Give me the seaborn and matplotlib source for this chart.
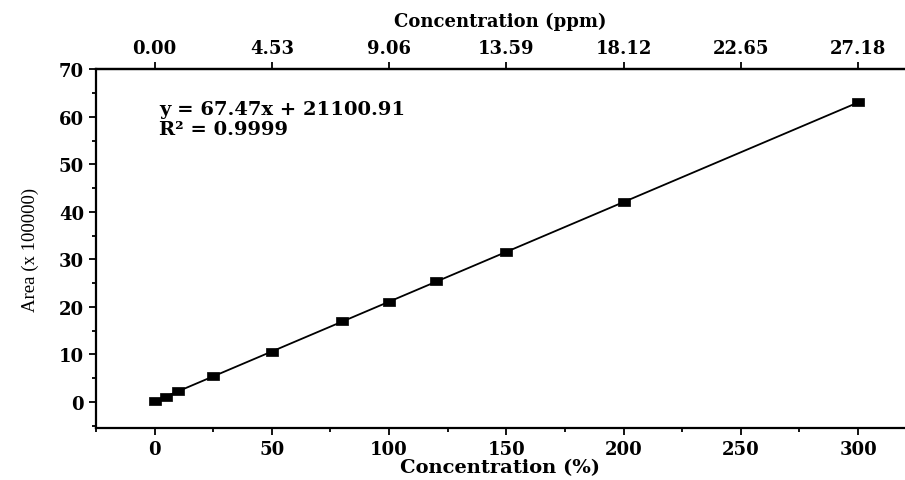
import numpy as np
import seaborn as sns
import matplotlib.pyplot as plt
from matplotlib.ticker import MultipleLocator, FormatStrFormatter

# calibration data
conc_pct = [0, 5, 10, 25, 50, 80, 100, 120, 150, 200, 300]
area = [0.1, 1.1, 2.2, 5.4, 10.6, 17.0, 21.1, 25.4, 31.5, 42.0, 63.0]
ppm_ticks = [0.00, 4.53, 9.06, 13.59, 18.12, 22.65, 27.18]
ppm_per_pct = 27.18 / 300
fit_text = "y = 67.47x + 21100.91\nR\u00b2 = 0.9999"

sns.set_theme(style="ticks")
plt.rcParams['font.family'] = ['DejaVu Serif']
for key in ['text.color', 'axes.labelcolor', 'xtick.color', 'ytick.color', 'axes.edgecolor']:
    plt.rcParams[key] = 'black'

fig = plt.figure(figsize=(9.05, 4.81), dpi=100)
ax = fig.add_axes([0.106, 0.108, 0.894, 0.746])

# wide square marker, the source image is stretched sideways
box = [(-1.4, -1), (1.4, -1), (1.4, 1), (-1.4, 1), (-1.4, -1)]
sns.regplot(x=conc_pct, y=area, ax=ax, ci=None, color='black', marker=box,
            scatter_kws={'s': 65, 'edgecolors': 'black', 'linewidths': 0.5, 'alpha': 1},
            line_kws={'linewidth': 1.3})

ax.set_xlim(-25, 320)
ax.set_ylim(-5.5, 70)
ax.xaxis.set_major_locator(MultipleLocator(50))
ax.xaxis.set_minor_locator(MultipleLocator(25))
ax.yaxis.set_major_locator(MultipleLocator(10))
ax.yaxis.set_minor_locator(MultipleLocator(5))
ax.tick_params(which='major', direction='out', length=5, width=1.3, labelsize=13)
ax.tick_params(which='minor', direction='out', length=3, width=1.3)
for lab in ax.get_xticklabels() + ax.get_yticklabels():
    lab.set_fontweight('bold')

ax.spines['right'].set_visible(False)
for s in ['left', 'bottom', 'top']:
    ax.spines[s].set_linewidth(1.6)

ax.set_xlabel('Concentration (%)', fontsize=14, fontweight='bold', labelpad=0)
ax.set_ylabel('Area (x 100000)', fontsize=13.5, family='Liberation Serif', labelpad=14)

top = ax.secondary_xaxis('top', functions=(lambda v: v * ppm_per_pct, lambda v: v / ppm_per_pct))
top.set_xticks(ppm_ticks)
top.xaxis.set_major_formatter(FormatStrFormatter('%.2f'))
top.tick_params(direction='out', length=5, width=1.3, labelsize=13)
for lab in top.get_xticklabels():
    lab.set_fontweight('bold')
top.set_xlabel('Concentration (ppm)', fontsize=13, fontweight='bold', labelpad=10)
top.spines['top'].set_linewidth(1.6)

ax.text(0.078, 0.915, fit_text, transform=ax.transAxes, fontsize=14,
        fontweight='bold', va='top', ha='left', linespacing=1.15)

fig.savefig('out.png', dpi=100)
